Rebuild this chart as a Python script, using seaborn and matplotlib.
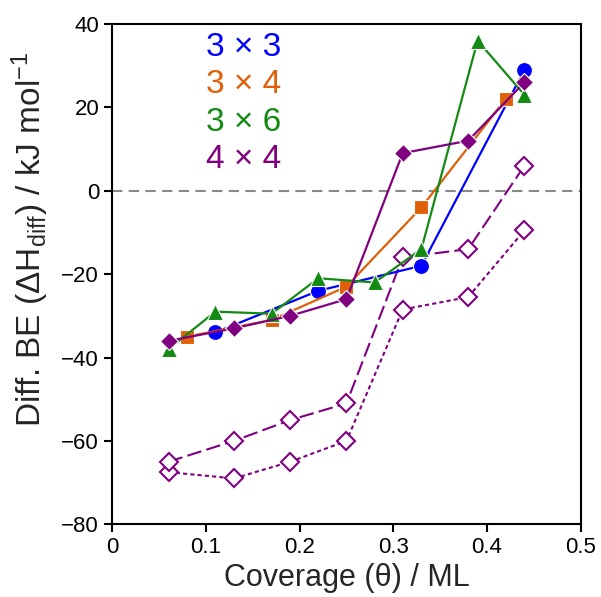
import matplotlib
matplotlib.use("Agg")
import matplotlib.pyplot as plt
import seaborn as sns
import pandas as pd

sns.set_theme(style="ticks")
plt.rcParams['font.family'] = ['Liberation Sans', 'DejaVu Sans']
plt.rcParams['mathtext.default'] = 'regular'

# ---- data ----
x_3x3 = [0.11, 0.22, 0.33, 0.44]
y_3x3 = [-34, -24, -18, 29]

x_3x4 = [0.08, 0.17, 0.25, 0.33, 0.42]
y_3x4 = [-35, -31, -23, -4, 22]

x_3x6 = [0.06, 0.11, 0.17, 0.22, 0.28, 0.33, 0.39, 0.44]
y_3x6 = [-38, -29, -29.5, -21, -22, -14, 36, 23]

x_4x4 = [0.06, 0.13, 0.19, 0.25, 0.31, 0.38, 0.44]
y_4x4 = [-36, -33, -30, -26, 9, 12, 26]

x_open = [0.06, 0.13, 0.19, 0.25, 0.31, 0.38, 0.44]
y_open_dashed = [-65, -60, -55, -51, -16, -14, 6]
y_open_dotted = [-67.5, -69, -65, -60, -28.5, -25.5, -9.5]

labels = ["3 × 3", "3 × 4", "3 × 6", "4 × 4"]
colors = ["#0000ff", "#e0600a", "#138a13", "#800080"]

fig = plt.figure(figsize=(6.01, 5.97), dpi=100)
ax = fig.add_axes([0.1869, 0.1218, 0.7792, 0.8381])

purple = colors[3]
# open diamond series
sns.lineplot(x=x_open, y=y_open_dotted, ax=ax, color=purple, linestyle=(0, (2, 1.5)),
             linewidth=1.5, marker='D', markersize=9.5, markerfacecolor='white',
             markeredgecolor=purple, markeredgewidth=1.5, sort=False)
sns.lineplot(x=x_open, y=y_open_dashed, ax=ax, color=purple, linestyle=(0, (7, 2.5)),
             linewidth=1.5, marker='D', markersize=9.5, markerfacecolor='white',
             markeredgecolor=purple, markeredgewidth=1.5, sort=False)

series = [(x_3x3, y_3x3, 'o', 11.5), (x_3x4, y_3x4, 's', 10),
          (x_3x6, y_3x6, '^', 11), (x_4x4, y_4x4, 'D', 9)]
for (xs, ys, m, ms), c in zip(series, colors):
    sns.lineplot(x=xs, y=ys, ax=ax, color=c, linewidth=1.6, marker=m, markersize=ms,
                 markerfacecolor=c, markeredgecolor='white', markeredgewidth=0.8,
                 sort=False)

ax.axhline(0, color='#888888', linestyle=(0, (5, 3)), linewidth=1.5, zorder=0)

ax.set_xlim(0, 0.5)
ax.set_ylim(-80, 40)
ax.set_xticks([0, 0.1, 0.2, 0.3, 0.4, 0.5])
ax.set_xticklabels(["0", "0.1", "0.2", "0.3", "0.4", "0.5"])
ax.set_yticks([-80, -60, -40, -20, 0, 20, 40])
ax.tick_params(direction='out', length=6, width=1.5, labelsize=16, colors='black')
for s in ax.spines.values():
    s.set_linewidth(1.5)
    s.set_color('black')

ax.set_xlabel("Coverage (θ) / ML", fontsize=22, labelpad=3)
ax.set_ylabel(r"Diff. BE ($\Delta$H$_{diff}$) / kJ mol$^{-1}$", fontsize=24)
ax.yaxis.set_label_coords(-0.13, 0.57)

for i, (lab, c) in enumerate(zip(labels, colors)):
    ax.text(0.281, 0.952 - 0.074 * i, lab, color=c, fontsize=24,
            ha='center', va='center', transform=ax.transAxes)

fig.savefig("out.png", dpi=100)
